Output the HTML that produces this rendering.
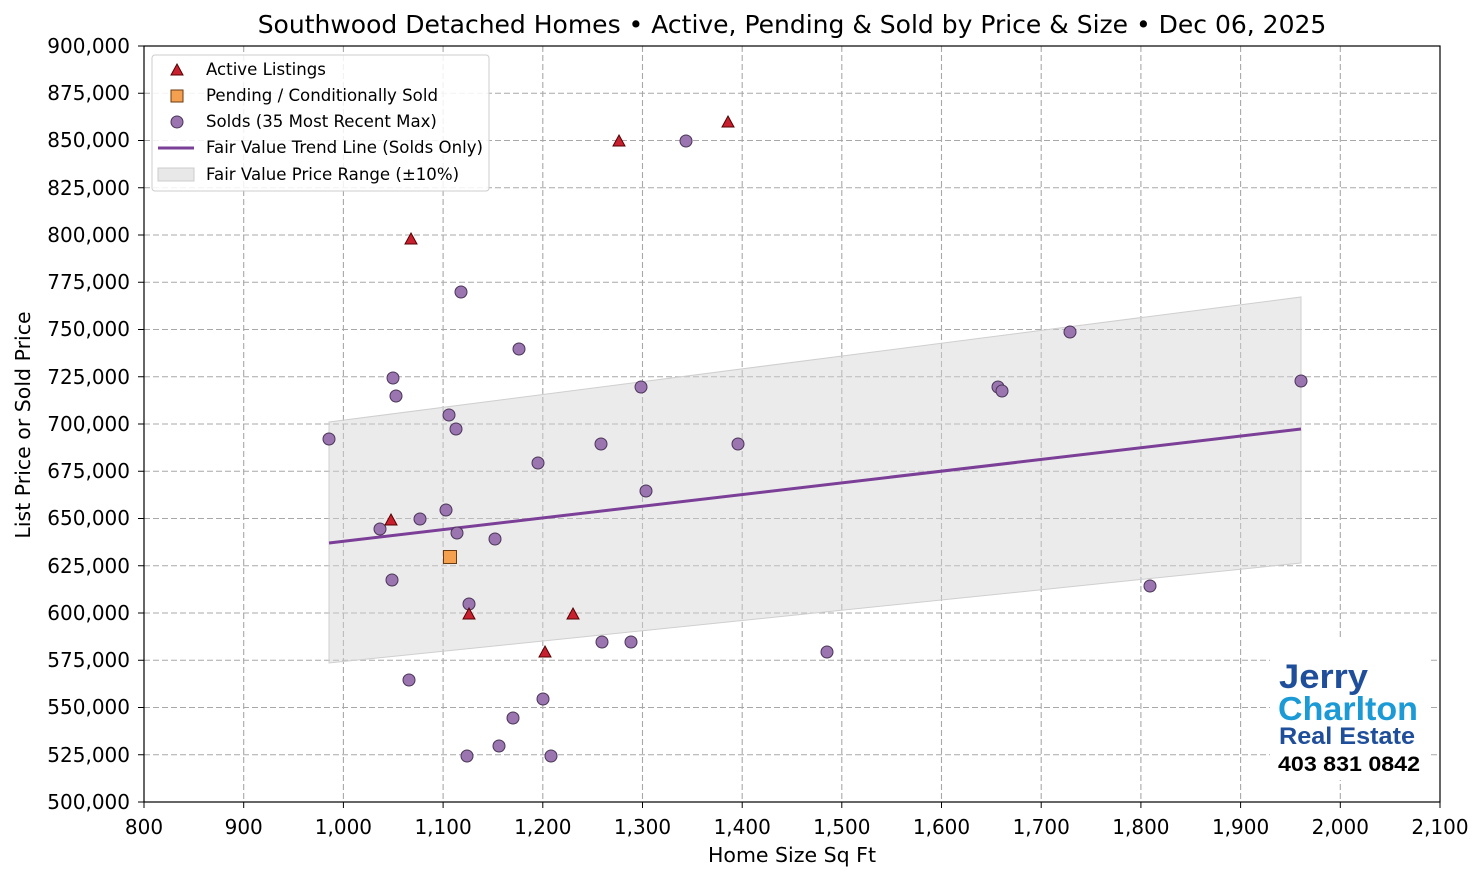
<!DOCTYPE html>
<html><head><meta charset="utf-8"><style>body{margin:0;background:#fff}svg{display:block;font-family:"DejaVu Sans","Liberation Sans",sans-serif}</style></head><body>
<svg width="1484" height="881" viewBox="0 0 1484 881">
<rect width="1484" height="881" fill="#fff"/>
<text x="792" y="33" font-size="25" text-anchor="middle">Southwood Detached Homes • Active, Pending &amp; Sold by Price &amp; Size • Dec 06, 2025</text>
<g stroke="#a8a8a8" stroke-dasharray="6,3" stroke-width="1.1">
<line x1="243.7" y1="46" x2="243.7" y2="802"/><line x1="343.4" y1="46" x2="343.4" y2="802"/><line x1="443.1" y1="46" x2="443.1" y2="802"/><line x1="542.8" y1="46" x2="542.8" y2="802"/><line x1="642.5" y1="46" x2="642.5" y2="802"/><line x1="742.2" y1="46" x2="742.2" y2="802"/><line x1="841.8" y1="46" x2="841.8" y2="802"/><line x1="941.5" y1="46" x2="941.5" y2="802"/><line x1="1041.2" y1="46" x2="1041.2" y2="802"/><line x1="1140.9" y1="46" x2="1140.9" y2="802"/><line x1="1240.6" y1="46" x2="1240.6" y2="802"/><line x1="1340.3" y1="46" x2="1340.3" y2="802"/>
<line x1="144" y1="93.25" x2="1440" y2="93.25"/><line x1="144" y1="140.5" x2="1440" y2="140.5"/><line x1="144" y1="187.75" x2="1440" y2="187.75"/><line x1="144" y1="235" x2="1440" y2="235"/><line x1="144" y1="282.25" x2="1440" y2="282.25"/><line x1="144" y1="329.5" x2="1440" y2="329.5"/><line x1="144" y1="376.75" x2="1440" y2="376.75"/><line x1="144" y1="424" x2="1440" y2="424"/><line x1="144" y1="471.25" x2="1440" y2="471.25"/><line x1="144" y1="518.5" x2="1440" y2="518.5"/><line x1="144" y1="565.75" x2="1440" y2="565.75"/><line x1="144" y1="613" x2="1440" y2="613"/><line x1="144" y1="660.25" x2="1440" y2="660.25"/><line x1="144" y1="707.5" x2="1440" y2="707.5"/><line x1="144" y1="754.75" x2="1440" y2="754.75"/>
</g>
<polygon points="329,422 1301,297 1301,563 329,663" fill="#d3d3d3" fill-opacity="0.45" stroke="#cfcfcf"/>
<line x1="329" y1="543" x2="1301" y2="429" stroke="#7b3f98" stroke-width="3"/>
<g fill="#9a75b0" stroke="#4a3557" stroke-width="1">
<circle cx="329" cy="439" r="6"/><circle cx="380" cy="529" r="6"/><circle cx="392" cy="580" r="6"/><circle cx="393" cy="378" r="6"/><circle cx="396" cy="396" r="6"/><circle cx="409" cy="680" r="6"/><circle cx="420" cy="519" r="6"/><circle cx="446" cy="510" r="6"/><circle cx="449" cy="415" r="6"/><circle cx="456" cy="429" r="6"/><circle cx="457" cy="533" r="6"/><circle cx="461" cy="292" r="6"/><circle cx="467" cy="756" r="6"/><circle cx="469" cy="604" r="6"/><circle cx="495" cy="539" r="6"/><circle cx="499" cy="746" r="6"/><circle cx="513" cy="718" r="6"/><circle cx="519" cy="349" r="6"/><circle cx="538" cy="463" r="6"/><circle cx="543" cy="699" r="6"/><circle cx="551" cy="756" r="6"/><circle cx="601" cy="444" r="6"/><circle cx="602" cy="642" r="6"/><circle cx="631" cy="642" r="6"/><circle cx="641" cy="387" r="6"/><circle cx="646" cy="491" r="6"/><circle cx="686" cy="141" r="6"/><circle cx="738" cy="444" r="6"/><circle cx="827" cy="652" r="6"/><circle cx="998" cy="387" r="6"/><circle cx="1002" cy="391" r="6"/><circle cx="1070" cy="332" r="6"/><circle cx="1150" cy="586" r="6"/><circle cx="1301" cy="381" r="6"/>
</g>
<g fill="#c8202f" stroke="#500" stroke-width="1">
<polygon points="411,233 417,244 405,244"/><polygon points="391,514 397,525 385,525"/><polygon points="469,608 475,619 463,619"/><polygon points="545,646 551,657 539,657"/><polygon points="573,608 579,619 567,619"/><polygon points="619,135 625,146 613,146"/><polygon points="728,116 734,127 722,127"/>
</g>
<rect x="443.5" y="550.5" width="13" height="13" fill="#f5a04f" stroke="#6a3a10"/>
<rect x="144" y="46" width="1296" height="756" fill="none" stroke="#000" stroke-width="1.2"/>
<g font-size="20" text-anchor="middle">
<text x="144" y="834">800</text><text x="243.7" y="834">900</text><text x="343.4" y="834">1,000</text><text x="443.1" y="834">1,100</text><text x="542.8" y="834">1,200</text><text x="642.5" y="834">1,300</text><text x="742.2" y="834">1,400</text><text x="841.8" y="834">1,500</text><text x="941.5" y="834">1,600</text><text x="1041.2" y="834">1,700</text><text x="1140.9" y="834">1,800</text><text x="1240.6" y="834">1,900</text><text x="1340.3" y="834">2,000</text><text x="1440" y="834">2,100</text>
</g>
<g stroke="#000"><line x1="144" y1="802" x2="144" y2="808"/><line x1="243.7" y1="802" x2="243.7" y2="808"/><line x1="343.4" y1="802" x2="343.4" y2="808"/><line x1="443.1" y1="802" x2="443.1" y2="808"/><line x1="542.8" y1="802" x2="542.8" y2="808"/><line x1="642.5" y1="802" x2="642.5" y2="808"/><line x1="742.2" y1="802" x2="742.2" y2="808"/><line x1="841.8" y1="802" x2="841.8" y2="808"/><line x1="941.5" y1="802" x2="941.5" y2="808"/><line x1="1041.2" y1="802" x2="1041.2" y2="808"/><line x1="1140.9" y1="802" x2="1140.9" y2="808"/><line x1="1240.6" y1="802" x2="1240.6" y2="808"/><line x1="1340.3" y1="802" x2="1340.3" y2="808"/><line x1="1440" y1="802" x2="1440" y2="808"/></g>
<g font-size="20" text-anchor="end">
<text x="130" y="53">900,000</text><text x="130" y="100">875,000</text><text x="130" y="147">850,000</text><text x="130" y="195">825,000</text><text x="130" y="242">800,000</text><text x="130" y="289">775,000</text><text x="130" y="336">750,000</text><text x="130" y="384">725,000</text><text x="130" y="431">700,000</text><text x="130" y="478">675,000</text><text x="130" y="525">650,000</text><text x="130" y="573">625,000</text><text x="130" y="620">600,000</text><text x="130" y="667">575,000</text><text x="130" y="714">550,000</text><text x="130" y="762">525,000</text><text x="130" y="809">500,000</text>
</g>
<g stroke="#000"><line x1="138" y1="46" x2="144" y2="46"/><line x1="138" y1="93.25" x2="144" y2="93.25"/><line x1="138" y1="140.5" x2="144" y2="140.5"/><line x1="138" y1="187.75" x2="144" y2="187.75"/><line x1="138" y1="235" x2="144" y2="235"/><line x1="138" y1="282.25" x2="144" y2="282.25"/><line x1="138" y1="329.5" x2="144" y2="329.5"/><line x1="138" y1="376.75" x2="144" y2="376.75"/><line x1="138" y1="424" x2="144" y2="424"/><line x1="138" y1="471.25" x2="144" y2="471.25"/><line x1="138" y1="518.5" x2="144" y2="518.5"/><line x1="138" y1="565.75" x2="144" y2="565.75"/><line x1="138" y1="613" x2="144" y2="613"/><line x1="138" y1="660.25" x2="144" y2="660.25"/><line x1="138" y1="707.5" x2="144" y2="707.5"/><line x1="138" y1="754.75" x2="144" y2="754.75"/><line x1="138" y1="802" x2="144" y2="802"/></g>
<text x="792" y="862" font-size="20.5" text-anchor="middle">Home Size Sq Ft</text>
<text transform="translate(30,425) rotate(-90)" font-size="20.5" text-anchor="middle">List Price or Sold Price</text>
<rect x="152" y="55" width="337" height="136" rx="3" fill="#fff" fill-opacity="0.85" stroke="#ccc"/>
<g font-size="16.6">
<polygon points="177,64 183,75 171,75" fill="#c8202f" stroke="#500"/><text x="206" y="75">Active Listings</text>
<rect x="171" y="90" width="12" height="12" fill="#f5a04f" stroke="#6a3a10"/><text x="206" y="101">Pending / Conditionally Sold</text>
<circle cx="177" cy="122" r="6" fill="#9a75b0" stroke="#4a3557"/><text x="206" y="127">Solds (35 Most Recent Max)</text>
<line x1="158" y1="148" x2="194" y2="148" stroke="#7b3f98" stroke-width="3"/><text x="206" y="153">Fair Value Trend Line (Solds Only)</text>
<rect x="158" y="168" width="36" height="13" fill="#e8e8e8" stroke="#ccc"/><text x="206" y="180">Fair Value Price Range (±10%)</text>
</g>
<rect x="1270" y="640" width="160" height="140" fill="#fff"/>
<g font-family="Liberation Sans,sans-serif" font-weight="bold">
<text x="1279" y="688" font-size="34" fill="#1f4e9a" textLength="89" lengthAdjust="spacingAndGlyphs">Jerry</text>
<text x="1278" y="720" font-size="33" fill="#1b9ad6" textLength="140" lengthAdjust="spacingAndGlyphs">Charlton</text>
<text x="1279" y="744" font-size="24" fill="#1f4e9a" textLength="136" lengthAdjust="spacingAndGlyphs">Real Estate</text>
<text x="1278" y="771" font-size="21" fill="#000" textLength="142" lengthAdjust="spacingAndGlyphs">403 831 0842</text>
</g>
</svg>
</body></html>
